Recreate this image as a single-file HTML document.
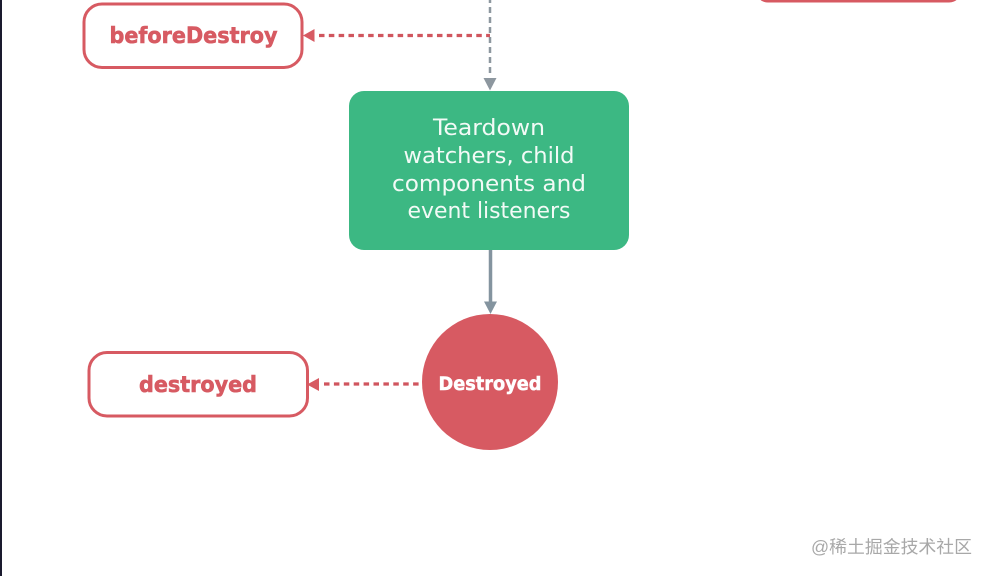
<!DOCTYPE html>
<html>
<head>
<meta charset="utf-8">
<style>
html,body{margin:0;padding:0;background:#fff;}
body{width:990px;height:576px;overflow:hidden;position:relative;}
svg{position:absolute;left:0;top:0;}
text{font-family:"DejaVu Sans","Liberation Sans",sans-serif;}
.soft{filter:blur(0.35px);}
</style>
</head>
<body>
<svg width="990" height="576" viewBox="0 0 990 576" xmlns="http://www.w3.org/2000/svg">
<rect x="0" y="0" width="990" height="576" fill="#fff"/>
<rect x="0" y="0" width="2" height="576" fill="#1a1a2e"/>
<g class="soft">
<!-- top right partial box -->
<rect x="757" y="-30" width="203" height="31" rx="11" fill="#fff" stroke="#d75a62" stroke-width="3"/>
<!-- grey dashed -->
<line x1="490" y1="73" x2="490" y2="0" stroke="#8d979f" stroke-width="2.500" stroke-dasharray="6 4"/>
<polygon points="483.500,78 496.500,78 490,90.500" fill="#8d979f"/>
<!-- red dashed top -->
<line x1="319" y1="35.500" x2="490" y2="35.500" stroke="#d0555e" stroke-width="3.200" stroke-dasharray="5.500 4.330"/>
<polygon points="314.500,29 314.500,42 303,35.500" fill="#d75a62"/>
<!-- beforeDestroy -->
<rect x="84" y="4" width="218" height="63.500" rx="18" fill="#fff" stroke="#d75a62" stroke-width="3"/>
<text x="193.500" y="43" text-anchor="middle" font-size="22" font-weight="700" fill="#d75a62" stroke="#d75a62" stroke-width="0.600" textLength="168" lengthAdjust="spacingAndGlyphs">beforeDestroy</text>
<!-- green box -->
<rect x="349" y="91" width="280" height="159" rx="15" fill="#3cb883"/>
<g fill="#f2faf6" font-size="22" text-anchor="middle">
<text x="489" y="135" textLength="112" lengthAdjust="spacingAndGlyphs">Teardown</text>
<text x="489" y="163" textLength="171" lengthAdjust="spacingAndGlyphs">watchers, child</text>
<text x="489" y="191" textLength="194" lengthAdjust="spacingAndGlyphs">components and</text>
<text x="489" y="218" textLength="163" lengthAdjust="spacingAndGlyphs">event listeners</text>
</g>
<!-- solid connector -->
<line x1="490.500" y1="250" x2="490.500" y2="303" stroke="#84949f" stroke-width="3.500"/>
<polygon points="484,301.500 497,301.500 490.500,314" fill="#84949f"/>
<!-- circle -->
<circle cx="490" cy="382" r="68" fill="#d75a62"/>
<text x="490" y="390" text-anchor="middle" font-size="19" font-weight="700" fill="#fff" stroke="#fff" stroke-width="0.500" textLength="103" lengthAdjust="spacingAndGlyphs">Destroyed</text>
<!-- red dashed bottom -->
<line x1="324" y1="384" x2="419" y2="384" stroke="#d0555e" stroke-width="3.200" stroke-dasharray="5.500 4.400"/>
<polygon points="319,378 319,391 307,384.500" fill="#d75a62"/>
<!-- destroyed -->
<rect x="89" y="352.500" width="218.500" height="63.500" rx="18" fill="#fff" stroke="#d75a62" stroke-width="3"/>
<text x="198" y="392" text-anchor="middle" font-size="22" font-weight="700" fill="#d75a62" stroke="#d75a62" stroke-width="0.600" textLength="118" lengthAdjust="spacingAndGlyphs">destroyed</text>
<!-- watermark -->
<text x="811" y="553" font-size="17.500" fill="#a8a8a8" style='font-family:"Liberation Sans","Noto Sans CJK SC",sans-serif' textLength="161" lengthAdjust="spacingAndGlyphs">@稀土掘金技术社区</text>
</g>
</svg>
</body>
</html>
